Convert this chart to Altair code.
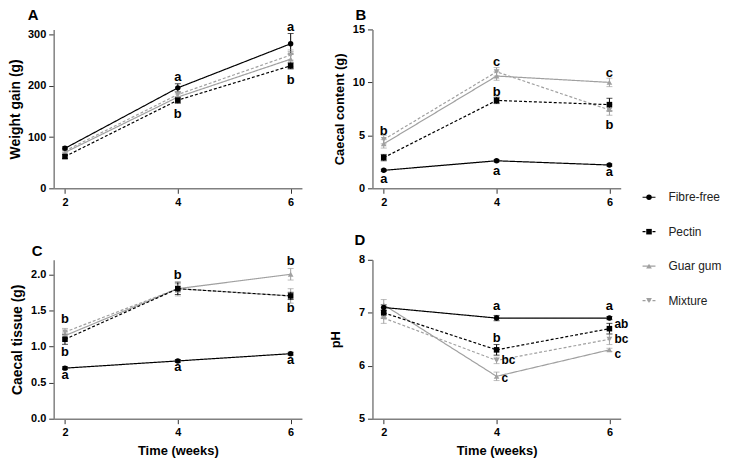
import altair as alt
import pandas as pd

FONT = "Liberation Sans"
weeks = [2, 4, 6]
series = ["Fibre-free", "Pectin", "Guar gum", "Mixture"]
colors = ["#000000", "#000000", "#a0a0a0", "#a0a0a0"]
dashes = [[1, 0], [3, 2], [1, 0], [3, 2]]
shapes = ["circle", "square", "triangle-up", "triangle-down"]
sizes = [30, 34, 22, 22]

# Panel A: weight gain (g)
wg_fibre = [78, 196, 282]
wg_fibre_se = [3, 8, 20]
wg_pectin = [62, 172, 239]
wg_pectin_se = [4, 6, 6]
wg_guar = [70, 178, 252]
wg_guar_se = [3, 6, 15]
wg_mix = [73, 183, 260]
wg_mix_se = [3, 6, 10]
annA_week = [4, 4, 6, 6]
annA_y = [218, 144, 314, 212]
annA_text = ["a", "b", "a", "b"]

# Panel B: caecal content (g)
cc_fibre = [1.7, 2.6, 2.2]
cc_fibre_se = [0.1, 0.1, 0.1]
cc_pectin = [2.9, 8.3, 7.9]
cc_pectin_se = [0.3, 0.3, 0.6]
cc_guar = [4.2, 10.6, 10.0]
cc_guar_se = [0.4, 0.4, 0.4]
cc_mix = [4.6, 11.0, 7.4]
cc_mix_se = [0.4, 0.4, 0.5]
annB_week = [2, 2, 4, 4, 4, 6, 6, 6]
annB_y = [5.45, 0.85, 11.9, 9.1, 1.6, 10.9, 6.0, 1.5]
annB_text = ["b", "a", "c", "b", "a", "c", "b", "a"]

# Panel C: caecal tissue (g)
ct_fibre = [0.7, 0.8, 0.9]
ct_fibre_se = [0.02, 0.02, 0.02]
ct_pectin = [1.1, 1.8, 1.7]
ct_pectin_se = [0.07, 0.08, 0.05]
ct_guar = [1.15, 1.8, 2.0]
ct_guar_se = [0.05, 0.1, 0.08]
ct_mix = [1.2, 1.8, 1.7]
ct_mix_se = [0.05, 0.05, 0.1]
annC_week = [2, 2, 2, 4, 4, 6, 6, 6]
annC_y = [1.38, 0.92, 0.6, 1.99, 0.71, 2.18, 1.53, 0.81]
annC_text = ["b", "b", "a", "b", "a", "b", "b", "a"]

# Panel D: pH
ph_fibre = [7.1, 6.9, 6.9]
ph_fibre_se = [0.05, 0.05, 0.03]
ph_pectin = [7.0, 6.3, 6.7]
ph_pectin_se = [0.1, 0.1, 0.1]
ph_guar = [7.15, 5.8, 6.3]
ph_guar_se = [0.1, 0.08, 0.03]
ph_mix = [6.9, 6.1, 6.5]
ph_mix_se = [0.1, 0.06, 0.1]
annD_week = [4, 4, 4, 4, 6, 6, 6, 6]
annD_y = [7.12, 6.52, 6.1, 5.76, 7.12, 6.79, 6.51, 6.23]
annD_text = ["a", "b", "bc", "c", "a", "ab", "bc", "c"]
annD_side = ["top", "top", "right", "right", "top", "right", "right", "right"]


def make_df(vals, ses):
    rows = []
    # grey series first so the black series are drawn on top
    for s, v, e in reversed(list(zip(series, vals, ses))):
        for w, m, se in zip(weeks, v, e):
            rows.append(dict(series=s, week=w, mean=m, lo=m - se, hi=m + se))
    return pd.DataFrame(rows)


def make_ann(w, y, t, side=None):
    d = pd.DataFrame({"week": w, "y": y, "label": t})
    d["side"] = side if side is not None else ["top"] * len(w)
    return d


col_enc = alt.Color("series:N", scale=alt.Scale(domain=series, range=colors), legend=None)
dash_enc = alt.StrokeDash("series:N", scale=alt.Scale(domain=series, range=dashes), legend=None)
shape_enc = alt.Shape("series:N", scale=alt.Scale(domain=series, range=shapes), legend=None)
size_enc = alt.Size("series:N", scale=alt.Scale(domain=series, range=sizes), legend=None)


def panel(letter, df, ann, ytitle, ydom, yvals, yfmt, xtitle, tdx, toff, tpad, tsize, legend=False):
    xs = alt.Scale(domain=[1.8, 6.2], nice=False, zero=False)
    ys = alt.Scale(domain=ydom, nice=False, zero=False)
    if xtitle:
        xax = alt.Axis(values=weeks, format="d", title=xtitle, titlePadding=7, titleFontSize=13)
    else:
        xax = alt.Axis(values=weeks, format="d", title="")
    yax = alt.Axis(values=yvals, format=yfmt, title=ytitle, titlePadding=tpad, titleFontSize=tsize)
    X = alt.X("week:Q", scale=xs, axis=xax)
    base = alt.Chart(df)
    line = base.mark_line(strokeWidth=1.2).encode(
        x=X, y=alt.Y("mean:Q", scale=ys, axis=yax), color=col_enc, strokeDash=dash_enc
    )
    err = base.mark_rule(strokeWidth=1).encode(
        x=X, y=alt.Y("lo:Q", scale=ys, axis=yax), y2="hi:Q", color=col_enc
    )
    cap_lo = base.mark_tick(orient="horizontal", size=6, thickness=1).encode(
        x=X, y=alt.Y("lo:Q", scale=ys, axis=yax), color=col_enc
    )
    cap_hi = base.mark_tick(orient="horizontal", size=6, thickness=1).encode(
        x=X, y=alt.Y("hi:Q", scale=ys, axis=yax), color=col_enc
    )
    pts = base.mark_point(filled=True, opacity=1).encode(
        x=X, y=alt.Y("mean:Q", scale=ys, axis=yax), color=col_enc, shape=shape_enc, size=size_enc
    )
    abase = alt.Chart(ann)
    txt_top = abase.transform_filter(alt.datum.side == "top").mark_text(
        font=FONT, fontSize=13, fontWeight="bold", baseline="middle", align="center", color="#000"
    ).encode(x=X, y=alt.Y("y:Q", scale=ys, axis=yax), text="label:N")
    txt_right = abase.transform_filter(alt.datum.side == "right").mark_text(
        font=FONT, fontSize=12, fontWeight="bold", baseline="middle", align="left", dx=5, color="#000"
    ).encode(x=X, y=alt.Y("y:Q", scale=ys, axis=yax), text="label:N")
    main = alt.layer(err, cap_lo, cap_hi, line, pts, txt_top, txt_right)
    if legend:
        # legend drawn below panel B, in the gap to the right of panel D's title
        ldf = pd.DataFrame({"series": series})
        ly = alt.Y("series:N", scale=alt.Scale(type="point", domain=series, range=[169, 273], padding=0), axis=None)
        lbase = alt.Chart(ldf)
        lrule = lbase.mark_rule(strokeWidth=1.2).encode(
            x=alt.value(272), x2=alt.value(285), y=ly, color=col_enc, strokeDash=dash_enc
        )
        lpt = lbase.mark_point(filled=True, opacity=1).encode(
            x=alt.value(278.5), y=ly, color=col_enc, shape=shape_enc, size=size_enc
        )
        ltxt = lbase.mark_text(font=FONT, fontSize=12, align="left", baseline="middle", color="#222").encode(
            x=alt.value(298), y=ly, text="series:N"
        )
        main = alt.layer(main, alt.layer(lrule, lpt, ltxt)).resolve_scale(y="independent")
    return main.properties(
        width=250,
        height=160,
        title=alt.TitleParams(
            letter, anchor="start", frame="group", dx=tdx, offset=toff,
            fontSize=15, fontWeight="bold", font=FONT, color="#000"
        ),
    )


dfA = make_df([wg_fibre, wg_pectin, wg_guar, wg_mix], [wg_fibre_se, wg_pectin_se, wg_guar_se, wg_mix_se])
dfB = make_df([cc_fibre, cc_pectin, cc_guar, cc_mix], [cc_fibre_se, cc_pectin_se, cc_guar_se, cc_mix_se])
dfC = make_df([ct_fibre, ct_pectin, ct_guar, ct_mix], [ct_fibre_se, ct_pectin_se, ct_guar_se, ct_mix_se])
dfD = make_df([ph_fibre, ph_pectin, ph_guar, ph_mix], [ph_fibre_se, ph_pectin_se, ph_guar_se, ph_mix_se])

pA = panel("A", dfA, make_ann(annA_week, annA_y, annA_text), "Weight gain (g)", [0, 310], [0, 100, 200, 300], "d", None, -26, -2, 5, 14)
pB = panel("B", dfB, make_ann(annB_week, annB_y, annB_text), "Caecal content (g)", [0, 15], [0, 5, 10, 15], "d", None, -17, 0, 6, 13, legend=True)
pC = panel("C", dfC, make_ann(annC_week, annC_y, annC_text), "Caecal tissue (g)", [0, 2.2], [0, 0.5, 1.0, 1.5, 2.0], ".1f", "Time (weeks)", -22, -4, 6, 14)
pD = panel("D", dfD, make_ann(annD_week, annD_y, annD_text, annD_side), "pH", [5, 8], [5, 6, 7, 8], "d", "Time (weeks)", -18, 6, 16, 13)

chart = alt.concat(
    pA, pB, pC, pD, columns=2, spacing={"row": 72, "column": 71}, bounds="flush"
).properties(
    padding={"top": -2, "left": 0, "right": 0, "bottom": 0}
).configure(font=FONT).configure_view(strokeWidth=0).configure_axis(
    grid=False,
    domainColor="#808080",
    domainWidth=1.5,
    tickColor="#333333",
    tickSize=5,
    tickWidth=1,
    labelFont=FONT,
    labelFontSize=11,
    labelFontWeight="bold",
    labelColor="#000000",
    labelPadding=3,
    titleFont=FONT,
    titleFontWeight="bold",
    titleColor="#000000",
)

chart.save("out.html", embed_options={"renderer": "svg", "actions": False})
